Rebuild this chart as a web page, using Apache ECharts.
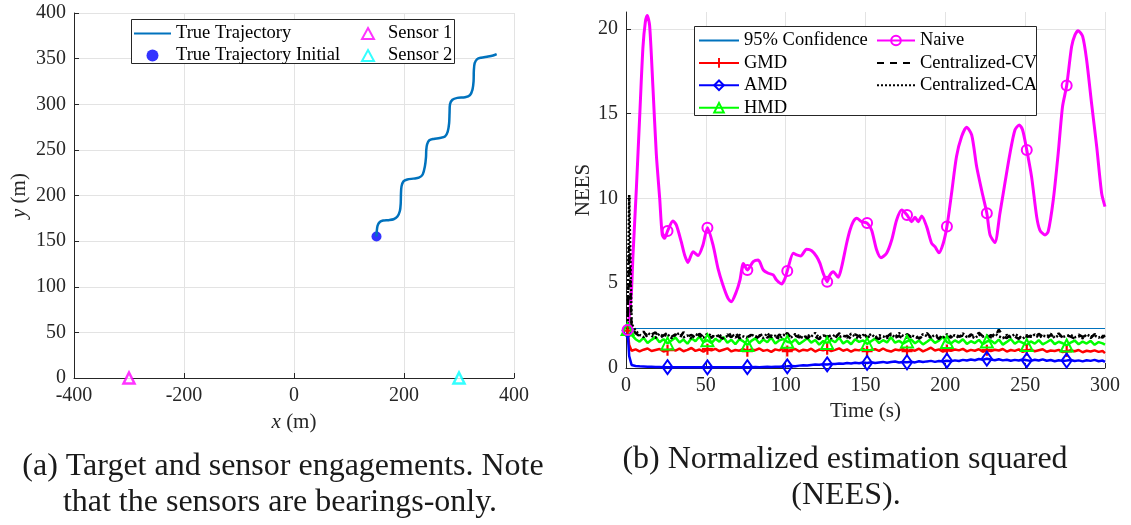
<!DOCTYPE html>
<html>
<head>
<meta charset="utf-8">
<script src="https://cdn.jsdelivr.net/npm/echarts@6/dist/echarts.min.js"></script>
<style>
  html, body { margin: 0; padding: 0; background: #fff; }
  #chart { width: 1131px; height: 525px; }
</style>
</head>
<body>
<div id="chart"></div>
<script>
// ---------- (a) engagement geometry ----------
const trajX = [150, 150.5, 152, 156, 162, 172, 181, 188, 192.5, 194, 194.5, 195.5, 199, 206, 217, 227, 234, 238, 240, 240.5, 242, 246, 254, 265, 274.5, 279.5, 282, 282.8, 283.6, 288, 297, 311, 320, 324.5, 326.5, 327, 328.5, 333, 340, 353, 362, 368.5];
const trajY = [155, 161, 167, 171, 172.5, 173, 174, 177, 183, 191, 202, 210, 215.5, 217.5, 218.5, 219.5, 223, 232, 242, 250, 256, 260.5, 262, 263, 264.6, 270, 279, 290, 300, 305, 307, 307.7, 310, 316, 325, 337, 345, 349.5, 351, 352.3, 353.5, 355];
const initialPos = [150, 155];
const sensor1Pos = [-300, 0];
const sensor2Pos = [300, 0];

// ---------- (b) NEES over time ----------
// sample times shared by the noisy estimator curves
const timeGrid = [1, 2];
for (let i = 0; i < 119; i++) timeGrid.push(3.5 + 2.5 * i);
timeGrid.push(300);

const confTime = [1, 300];
const confNEES = [2.33, 2.33];

const gmdNEES = [2.2, 1.35,
  1.02, 1.10, 0.98, 1.08, 1.15, 1.00, 1.06, 1.12, 0.97, 1.05,
  1.10, 1.03, 1.14, 0.99, 1.07, 1.18, 1.01, 1.09, 0.96, 1.11,
  1.04, 1.13, 1.00, 1.08, 1.16, 0.98, 1.06, 1.02, 1.12, 0.99,
  1.09, 1.05, 1.15, 1.01, 1.07, 0.95, 1.10, 1.04, 1.17, 1.00,
  1.06, 1.12, 0.98, 1.08, 1.03, 1.14, 0.97, 1.09, 1.05, 1.11,
  1.00, 1.07, 1.16, 1.02, 1.10, 0.96, 1.08, 1.04, 1.13, 0.99,
  1.06, 1.11, 1.01, 1.15, 1.03, 0.97, 1.09, 1.05, 1.12, 1.00,
  1.07, 1.02, 1.14, 0.98, 1.08, 1.20, 1.03, 1.10, 0.97, 1.06,
  1.01, 1.09, 1.04, 1.13, 0.98, 1.07, 1.02, 1.11, 0.96, 1.05,
  1.00, 1.08, 1.03, 1.12, 0.97, 1.06, 1.01, 1.10, 0.95, 1.04,
  1.08, 0.99, 1.05, 1.11, 0.96, 1.03, 1.00, 1.07, 0.94, 0.98,
  1.05, 0.99, 1.06, 0.93, 1.02, 0.97, 1.04, 0.95, 1.00, 0.88];

const amdNEES = [2.2, 0.7,
  0.18, 0.12, 0.10, 0.09, 0.08, 0.07, 0.06, 0.06, 0.05, 0.05,
  0.05, 0.04, 0.05, 0.04, 0.04, 0.05, 0.04, 0.04, 0.04, 0.04,
  0.04, 0.04, 0.05, 0.04, 0.04, 0.04, 0.05, 0.04, 0.05, 0.05,
  0.05, 0.06, 0.05, 0.06, 0.07, 0.06, 0.08, 0.07, 0.09, 0.10,
  0.12, 0.11, 0.14, 0.16, 0.15, 0.18, 0.20, 0.19, 0.22, 0.21,
  0.24, 0.23, 0.27, 0.25, 0.29, 0.27, 0.31, 0.28, 0.32, 0.30,
  0.34, 0.29, 0.33, 0.36, 0.31, 0.35, 0.38, 0.32, 0.36, 0.34,
  0.37, 0.33, 0.40, 0.35, 0.39, 0.42, 0.36, 0.41, 0.38, 0.43,
  0.40, 0.45, 0.41, 0.48, 0.44, 0.50, 0.46, 0.53, 0.49, 0.55,
  0.50, 0.46, 0.52, 0.45, 0.49, 0.43, 0.48, 0.44, 0.50, 0.46,
  0.42, 0.49, 0.44, 0.51, 0.43, 0.47, 0.40, 0.46, 0.42, 0.44,
  0.47, 0.41, 0.45, 0.39, 0.46, 0.42, 0.48, 0.40, 0.44, 0.36];

const hmdNEES = [2.3, 1.9,
  1.95, 1.70, 1.55, 1.78, 1.48, 1.66, 1.82, 1.52, 1.70, 1.45,
  1.62, 1.80, 1.50, 1.68, 1.43, 1.75, 1.58, 1.86, 1.52, 1.64,
  1.47, 1.72, 1.55, 1.83, 1.49, 1.66, 1.40, 1.70, 1.57, 1.36,
  1.60, 1.75, 1.46, 1.68, 1.52, 1.80, 1.44, 1.63, 1.71, 1.55,
  1.48, 1.69, 1.41, 1.58, 1.76, 1.50, 1.65, 1.38, 1.59, 1.47,
  1.66, 1.52, 1.79, 1.45, 1.61, 1.40, 1.70, 1.54, 1.63, 1.42,
  1.58, 1.73, 1.47, 1.64, 1.51, 1.82, 1.49, 1.60, 1.44, 1.57,
  1.69, 1.46, 1.62, 1.39, 1.55, 1.72, 1.48, 1.61, 1.85, 1.53,
  1.44, 1.63, 1.50, 1.70, 1.42, 1.58, 1.47, 1.66, 1.40, 1.56,
  1.62, 1.45, 1.68, 1.38, 1.54, 1.71, 1.43, 1.59, 1.48, 1.35,
  1.57, 1.44, 1.64, 1.39, 1.52, 1.67, 1.41, 1.55, 1.46, 1.33,
  1.50, 1.62, 1.40, 1.56, 1.44, 1.60, 1.37, 1.53, 1.45, 1.38];

const cvNEES = [2.3, 7.2,
  2.40, 2.05, 1.88, 2.15, 1.80, 1.97, 2.10, 1.76, 1.92, 2.08,
  1.84, 1.99, 1.73, 2.12, 1.86, 1.95, 1.70, 2.02, 1.83, 1.93,
  1.78, 2.06, 1.85, 1.72, 1.98, 1.81, 2.09, 1.75, 1.90, 1.82,
  1.96, 1.71, 1.88, 2.04, 1.79, 1.93, 1.68, 1.97, 1.84, 2.07,
  1.77, 1.91, 1.80, 2.01, 1.74, 1.95, 1.86, 1.69, 1.99, 1.82,
  1.94, 1.76, 2.05, 1.83, 1.90, 1.72, 1.98, 1.87, 2.10, 1.79,
  1.92, 1.81, 1.70, 1.96, 1.85, 2.03, 1.78, 1.89, 1.74, 2.00,
  1.83, 1.95, 1.73, 1.88, 2.06, 1.80, 1.93, 1.71, 1.97, 1.86,
  1.79, 2.02, 1.84, 1.91, 1.75, 1.99, 1.82, 2.08, 1.87, 1.77,
  1.94, 1.81, 2.26, 1.89, 1.76, 1.98, 1.85, 1.72, 1.96, 1.83,
  1.90, 1.78, 2.01, 1.86, 1.74, 1.95, 1.82, 2.04, 1.79, 1.92,
  1.85, 1.73, 1.97, 1.84, 1.91, 1.77, 2.00, 1.86, 1.80, 1.93];

const caNEES = [2.3, 10.2,
  2.60, 2.20, 1.95, 1.82, 2.08, 1.90, 1.78, 2.02, 1.87, 1.99,
  1.76, 1.94, 2.06, 1.81, 1.92, 1.74, 2.00, 1.88, 1.79, 2.04,
  1.91, 1.83, 1.97, 1.75, 1.89, 2.03, 1.80, 1.95, 1.86, 1.73,
  1.98, 1.84, 1.93, 1.77, 2.05, 1.82, 1.90, 1.71, 1.96, 1.87,
  1.81, 2.00, 1.89, 1.76, 1.94, 1.85, 2.07, 1.78, 1.92, 1.88,
  1.74, 1.99, 1.83, 1.91, 1.79, 2.02, 1.86, 1.73, 1.95, 1.84,
  2.01, 1.80, 1.93, 1.87, 1.76, 1.98, 1.82, 2.06, 1.89, 1.78,
  1.94, 1.85, 1.72, 2.00, 1.88, 1.81, 1.96, 1.84, 1.77, 1.99,
  1.86, 1.93, 1.79, 2.04, 1.83, 1.90, 1.75, 1.97, 1.85, 1.92,
  1.80, 2.03, 1.87, 1.76, 1.95, 1.82, 2.00, 1.88, 1.74, 1.93,
  1.84, 1.97, 1.79, 1.91, 1.86, 2.02, 1.77, 1.94, 1.83, 1.89,
  1.96, 1.81, 1.88, 1.75, 1.99, 1.85, 1.92, 1.79, 1.90, 1.84];

const naiveTime = [1, 2, 3.3, 4.4, 6.5, 8.6, 10.6, 12.1, 13.3, 14.8, 16.9, 19, 21.1, 22.7, 24.2, 26,
  29.4, 31.5, 34.6, 36.7, 38.8, 42, 45.1, 48.2, 51, 54.5, 57.6, 60.7, 63.9, 65.9, 69.1, 71.4,
  73.5, 76, 79.7, 82.8, 86, 89.1, 92.2, 94.3, 97.5, 99.6, 101, 104.8, 106.9, 109.4, 113.1, 116.3,
  119.4, 121.5, 123.5, 126, 127.7, 129.8, 132.9, 135.1, 138.2, 140.3, 142.3, 144.5, 147.6, 151,
  153.8, 157, 159.7, 163.2, 166.4, 169.5, 172.6, 176, 178.9, 181, 183, 185.2, 188.3, 191.4,
  193.5, 196, 198.7, 201, 203.9, 207, 210.2, 213.3, 216.5, 219.6, 222.7, 226, 228, 231,
  234.2, 237.3, 240.5, 243.6, 246.3, 248.4, 251, 254, 257.2, 259.2, 262.4, 264.4, 267.6, 270.7,
  273.4, 276, 279.1, 281.2, 283.2, 286, 288.5, 291.6, 294.8, 297.9, 300];
const naiveNEES = [2.24, 3.0, 4.3, 6.7, 10.6, 14.9, 18.9, 20.4, 20.8, 20.2, 16.5, 12.6, 10.0, 7.85, 7.65, 8.08,
  8.67, 8.44, 7.45, 6.67, 6.23, 6.86, 6.63, 7.26, 8.28, 7.26, 5.88, 4.9, 4.11, 3.91, 4.5, 5.2,
  6.17, 5.78, 6.27, 6.37, 5.78, 5.59, 5.49, 5.19, 4.96, 5.29, 5.72, 6.77, 6.67, 6.61, 7.0, 6.92,
  6.57, 6.17, 5.59, 5.09, 5.49, 5.68, 5.35, 5.98, 7.36, 8.14, 8.63, 8.83, 8.63, 8.55,
  8.14, 6.96, 6.51, 6.77, 7.55, 8.73, 9.32, 9.03, 8.63, 8.89, 8.63, 8.97, 8.34, 7.36,
  7.16, 6.8, 7.36, 8.34, 10.3, 12.47, 13.65, 14.2, 13.75, 11.88, 10.5, 9.13, 7.85, 7.4,
  9.13, 10.9, 12.67, 14.04, 14.34, 14.04, 12.86, 11.29, 8.93, 8.14, 7.85, 8.04, 9.91, 12.67,
  15.42, 16.66, 18.96, 19.65, 19.9, 19.56, 18.17, 15.6, 13.06, 10.3, 9.52];

// ---------- styling helpers ----------
const SERIF = '"Liberation Serif", "Times New Roman", serif';
const AXIS_COLOR = '#262626';
const GRID_COLOR = '#e3e3e3';

// markers are placed every 25 s starting at t = 1
function isMarkerTime(t) {
  const k = (t - 1) / 25;
  return Math.abs(k - Math.round(k)) < 1e-9 && t <= 276;
}
function markedSeriesData(times, values) {
  return values.map((v, i) => {
    const item = { value: [times[i], v] };
    if (!isMarkerTime(times[i])) item.symbol = 'none';
    return item;
  });
}
function pairs(xs, ys) { return xs.map((x, i) => [x, ys[i]]); }

function axisCommon(extra) {
  return Object.assign({
    axisLine: { show: true, onZero: false, lineStyle: { color: AXIS_COLOR, width: 1 } },
    axisTick: { show: true, inside: true, length: 5, lineStyle: { color: AXIS_COLOR } },
    splitLine: { show: true, lineStyle: { color: GRID_COLOR, width: 1 } },
    axisLabel: { color: AXIS_COLOR, fontFamily: SERIF, fontSize: 20, margin: 8 },
    nameTextStyle: { color: AXIS_COLOR, fontFamily: SERIF, fontSize: 21,
      rich: { i: { fontStyle: 'italic', fontFamily: SERIF, fontSize: 21, color: AXIS_COLOR } } }
  }, extra);
}

const legendText = { color: '#000', fontFamily: SERIF, fontSize: 18.5, lineHeight: 18 };
// legend entry showing only the line sample (no marker)
const lineOnly = name => ({ name, itemStyle: { opacity: 0 } });

const option = {
  animation: false,
  backgroundColor: '#fff',
  grid: [
    { left: 74, right: 617, top: 13, bottom: 147, containLabel: false },
    { left: 626, right: 26, top: 12, bottom: 157, containLabel: false }
  ],
  xAxis: [
    axisCommon({ gridIndex: 0, type: 'value', min: -400, max: 400, interval: 200,
      name: '{i|x} (m)', nameLocation: 'middle', nameGap: 34 }),
    axisCommon({ gridIndex: 1, type: 'value', min: 0, max: 300, interval: 50,
      name: 'Time (s)', nameLocation: 'middle', nameGap: 32 })
  ],
  yAxis: [
    axisCommon({ gridIndex: 0, type: 'value', min: 0, max: 400, interval: 50,
      name: '{i|y} (m)', nameLocation: 'middle', nameGap: 44 }),
    axisCommon({ gridIndex: 1, type: 'value', min: 0, max: 21, interval: 5,
      name: 'NEES', nameLocation: 'middle', nameGap: 32,
      axisLabel: { color: AXIS_COLOR, fontFamily: SERIF, fontSize: 20, margin: 8, showMaxLabel: false },
      splitLine: { show: true, showMaxLine: false, lineStyle: { color: GRID_COLOR, width: 1 } } })
  ],
  legend: [
    { left: 133, top: 24, orient: 'vertical', padding: 0, itemGap: 3, itemWidth: 37, itemHeight: 12,
      z: 5, textStyle: legendText,
      data: [lineOnly('True Trajectory'), { name: 'True Trajectory Initial', icon: 'circle' }] },
    { left: 361, top: 24, orient: 'vertical', padding: 0, itemGap: 3, itemWidth: 12, itemHeight: 11,
      z: 5, textStyle: Object.assign({ padding: [0, 0, 0, 9] }, legendText),
      data: ['Sensor 1', 'Sensor 2'] },
    { left: 698, top: 31, orient: 'vertical', padding: 0, itemGap: 3.4, itemWidth: 40, itemHeight: 12,
      z: 5, textStyle: legendText,
      data: [lineOnly('95% Confidence'), 'GMD', 'AMD', 'HMD'] },
    { left: 876, top: 31, orient: 'vertical', padding: 0, itemGap: 3.4, itemWidth: 38, itemHeight: 12,
      z: 5, textStyle: legendText,
      data: ['Naive', lineOnly('Centralized-CV'), lineOnly('Centralized-CA')] }
  ],
  graphic: [
    { type: 'rect', z: 3, shape: { x: 131.5, y: 19.5, width: 323, height: 44 },
      style: { fill: '#fff', stroke: AXIS_COLOR, lineWidth: 1 } },
    { type: 'rect', z: 3, shape: { x: 694.5, y: 26.5, width: 342, height: 89 },
      style: { fill: '#fff', stroke: AXIS_COLOR, lineWidth: 1 } },
    { type: 'text', z: 5, style: { text: '(a) Target and sensor engagements. Note', x: 283, y: 467,
      textAlign: 'center', textVerticalAlign: 'middle', fontFamily: SERIF, fontSize: 32, fill: '#1a1a1a' } },
    { type: 'text', z: 5, style: { text: 'that the sensors are bearings-only.', x: 280, y: 503,
      textAlign: 'center', textVerticalAlign: 'middle', fontFamily: SERIF, fontSize: 32, fill: '#1a1a1a' } },
    { type: 'text', z: 5, style: { text: '(b) Normalized estimation squared', x: 845, y: 460,
      textAlign: 'center', textVerticalAlign: 'middle', fontFamily: SERIF, fontSize: 32, fill: '#1a1a1a' } },
    { type: 'text', z: 5, style: { text: '(NEES).', x: 846, y: 496,
      textAlign: 'center', textVerticalAlign: 'middle', fontFamily: SERIF, fontSize: 32, fill: '#1a1a1a' } }
  ],
  series: [
    // (a)
    { name: 'True Trajectory', type: 'line', xAxisIndex: 0, yAxisIndex: 0,
      data: pairs(trajX, trajY), smooth: 0.3, showSymbol: false, symbol: 'none',
      lineStyle: { color: '#0072BD', width: 2.5 }, itemStyle: { color: '#0072BD' } },
    { name: 'True Trajectory Initial', type: 'scatter', xAxisIndex: 0, yAxisIndex: 0,
      data: [initialPos], symbol: 'circle', symbolSize: 10, itemStyle: { color: '#0000FF' } },
    { name: 'Sensor 1', type: 'scatter', xAxisIndex: 0, yAxisIndex: 0, clip: false,
      data: [sensor1Pos], symbol: 'triangle', symbolSize: 11,
      itemStyle: { color: '#fff', borderColor: '#FF00FF', borderWidth: 2.5 } },
    { name: 'Sensor 2', type: 'scatter', xAxisIndex: 0, yAxisIndex: 0, clip: false,
      data: [sensor2Pos], symbol: 'triangle', symbolSize: 11,
      itemStyle: { color: '#fff', borderColor: '#00FFFF', borderWidth: 2.5 } },
    // (b)
    { name: '95% Confidence', type: 'line', xAxisIndex: 1, yAxisIndex: 1,
      data: pairs(confTime, confNEES), symbol: 'none', showSymbol: false,
      lineStyle: { color: '#0072BD', width: 1.2 }, itemStyle: { color: '#0072BD' } },
    { name: 'GMD', type: 'line', xAxisIndex: 1, yAxisIndex: 1,
      data: markedSeriesData(timeGrid, gmdNEES), showAllSymbol: true,
      symbol: 'path://M4,0H6V4H10V6H6V10H4V6H0V4H4Z', symbolSize: 11,
      lineStyle: { color: '#FF0000', width: 2.5 }, itemStyle: { color: '#FF0000' } },
    { name: 'AMD', type: 'line', xAxisIndex: 1, yAxisIndex: 1,
      data: markedSeriesData(timeGrid, amdNEES), showAllSymbol: true,
      symbol: 'diamond', symbolSize: [10, 14],
      lineStyle: { color: '#0000FF', width: 2.5 },
      itemStyle: { color: 'rgba(255,255,255,0)', borderColor: '#0000FF', borderWidth: 2 } },
    { name: 'HMD', type: 'line', xAxisIndex: 1, yAxisIndex: 1,
      data: markedSeriesData(timeGrid, hmdNEES), showAllSymbol: true,
      symbol: 'triangle', symbolSize: 12,
      lineStyle: { color: '#00FF00', width: 2.5 },
      itemStyle: { color: 'rgba(255,255,255,0)', borderColor: '#00FF00', borderWidth: 2 } },
    { name: 'Naive', type: 'line', xAxisIndex: 1, yAxisIndex: 1,
      data: markedSeriesData(naiveTime, naiveNEES), showAllSymbol: true,
      symbol: 'circle', symbolSize: 10, smooth: 0.25,
      lineStyle: { color: '#FF00FF', width: 3 },
      itemStyle: { color: 'rgba(255,255,255,0)', borderColor: '#FF00FF', borderWidth: 2 } },
    { name: 'Centralized-CV', type: 'line', xAxisIndex: 1, yAxisIndex: 1,
      data: pairs(timeGrid, cvNEES), symbol: 'none', showSymbol: false,
      lineStyle: { color: '#000', width: 2.5, type: [7, 6] }, itemStyle: { color: '#000' } },
    { name: 'Centralized-CA', type: 'line', xAxisIndex: 1, yAxisIndex: 1,
      data: pairs(timeGrid, caNEES), symbol: 'none', showSymbol: false,
      lineStyle: { color: '#000', width: 2.5, type: [2, 2] }, itemStyle: { color: '#000' } }
  ]
};

const chart = echarts.init(document.getElementById('chart'), null, { renderer: 'canvas' });
chart.setOption(option);
</script>
</body>
</html>
